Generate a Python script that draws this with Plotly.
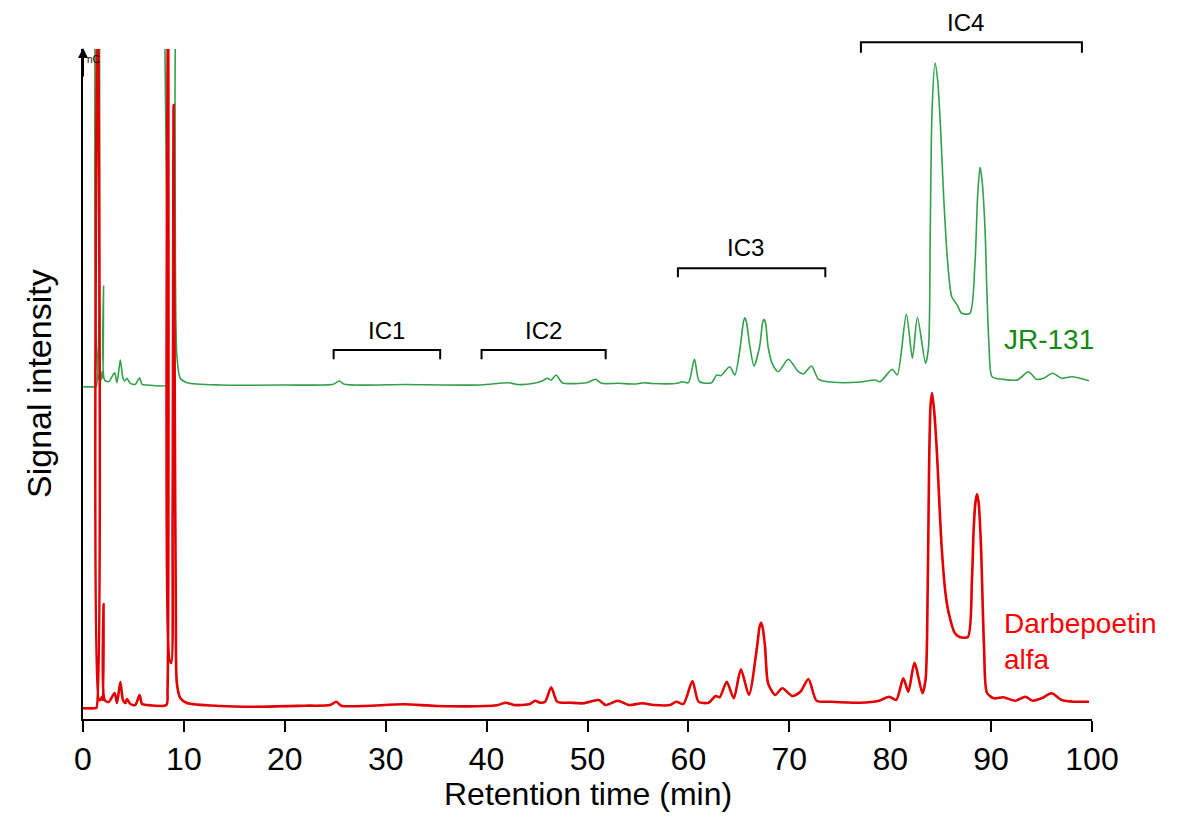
import plotly.graph_objects as go

# ---------------- data ----------------
# Darbepoetin alfa trace: retention time (min) and signal (arbitrary units)
red_time = [0.0, 1.2, 1.33, 1.45, 1.57, 1.71, 1.88, 1.97, 2.04, 2.14, 2.54, 3.13, 3.37, 3.70, 3.96,
            4.2, 4.36, 4.69, 5.18, 5.61, 5.85, 6.34, 8.26, 8.38, 8.45, 8.55, 8.75, 8.88, 8.98, 9.1,
            9.2, 9.3, 9.64, 10.3, 13.6, 16.9, 21.9, 24.5, 25.1, 25.6, 31.8, 35.1, 41.0, 41.9, 42.7,
            44.3, 44.8, 45.3, 45.8, 46.4, 47.0, 48.3, 49.6, 51.1, 51.8, 53.0, 54.1, 55.4, 56.6,
            58.2, 58.8, 59.5, 60.4, 61.0, 62.0, 62.7, 63.1, 63.8, 64.5, 65.2, 66.0, 66.8, 67.05,
            67.2, 67.35, 67.6, 67.9,
            68.6, 69.3, 70.3, 71.1, 71.9, 72.7, 74.1, 77.0, 78.9, 79.9, 80.6, 81.3, 81.8, 82.4,
            83.2, 83.5, 83.65, 83.85, 84.0, 84.15, 84.35, 84.6, 85.1, 85.5, 85.8, 86.4, 86.9, 87.7,
            88.1, 88.27, 88.44, 88.6, 88.77, 89.0, 89.3, 89.6, 90.3, 91.2, 92.4, 93.4, 94.1, 95.0,
            96.0, 97.0, 98.2, 99.7]
red_signal = [10.7, 10.7, 11, 800, 19, 19, 22, 19, 115, 19, 17, 26, 16, 37, 19,
              16, 20, 15, 14, 24, 15, 14, 14, 30, 800, 60, 56, 200, 614, 300,
              110, 36, 21, 16, 13, 12.3, 13.3, 14, 17.3, 13.3, 14.7, 13, 13.7, 16.3, 14,
              15, 18.3, 16.3, 17.3, 31.7, 17.3, 16.3, 15.7, 19, 14, 18.3, 14, 15.7, 14,
              14, 17.3, 15, 38, 17.3, 16.3, 23, 21.7, 37.3, 20.7, 49.7, 24, 72, 92,
              96.3, 92, 72, 35.7,
              24, 30.7, 23, 27.3, 40, 18.3, 17.3, 16.3, 18.3, 22.3, 19, 40.7, 27.3, 56.3,
              25.7, 39, 79, 249, 314, 326, 309, 272, 172, 124, 106, 86, 82, 82,
              139, 189, 216, 225, 216, 172, 72, 26, 20.7, 21.7, 18.3, 22.3, 18.3, 20.7,
              25.7, 19, 17.3, 17.3]

# JR-131 trace (signal relative to its own baseline; drawn with a vertical offset)
green_time = [0.0, 1.2, 1.33, 1.45, 1.57, 1.78, 1.88, 1.97, 2.04, 2.14, 2.54, 3.13, 3.37, 3.70, 3.96,
              4.15, 4.36, 4.69, 5.18, 5.61, 5.85, 6.34, 8.30, 8.42, 8.50, 8.95, 9.12, 9.3, 9.64, 10.3,
              13.6, 20.0, 24.8, 25.4, 25.9, 32.0, 39.4, 42.2, 43.0, 44.7, 45.6, 46.0, 46.4, 46.9,
              47.5, 49.9, 50.8, 51.4, 53.0, 54.8, 55.6, 56.4, 58.9, 59.4, 60.0, 60.6, 61.1, 62.3,
              62.8, 63.2, 64.1, 64.6, 65.14, 65.45, 65.6, 65.75, 66.1, 66.5, 67.05, 67.35, 67.5,
              67.65, 67.9, 68.3, 68.9, 69.9, 70.9, 71.4, 72.2, 72.9,
              74.4, 77.0, 78.5, 79.0, 80.2, 80.7, 81.6, 82.2, 82.7, 83.5, 83.8, 83.97, 84.14, 84.44,
              84.7, 85.0, 85.3, 85.7, 86.1, 86.6, 87.1, 87.9, 88.4, 88.66, 88.9, 89.1, 89.4, 89.6,
              89.8, 90.1, 91.2, 92.6, 93.7, 94.5, 95.2, 96.1, 97.0, 98.0, 99.7]
green_signal = [12.3, 12.3, 13, 800, 20, 19, 27.3, 20.7, 113.3, 19, 17.3, 26.3, 16.3, 39, 20.7,
                18, 20.7, 15.7, 14.7, 21.3, 14.7, 14, 14, 40, 800, 800, 300, 44, 20.7, 16.3,
                14, 14, 14.7, 18, 14.7, 14.5, 14, 16.3, 14.5, 15.7, 18.5, 20.7, 19, 24,
                16.3, 16.3, 19.7, 15.7, 15.7, 15, 16.3, 15.5, 15.7, 17.3, 16.3, 39.7, 17.3, 16.3,
                24, 23.3, 32.3, 24, 52, 77, 81.3, 77, 52, 33, 52, 76, 79.7,
                76, 52, 35.7, 27.3, 39.7, 27.3, 25, 33, 19.7,
                16.7, 17, 19, 17.3, 29.7, 24, 85, 40.7, 81.7, 35.7, 52, 169, 286, 336,
                319, 269, 202, 136, 102.3, 94.7, 85.7, 85.7, 135.7, 202, 231.7, 219, 169, 102,
                52.3, 22.3, 19.7, 19, 27.3, 19.7, 20.7, 25.7, 20.7, 22.3, 18.3]
GREEN_OFFSET = 320

# bracketed regions: label, start, end (min)
regions = ["IC1", "IC2", "IC3", "IC4"]
region_start = [24.84, 39.5, 58.96, 77.1]
region_end = [35.4, 51.8, 73.57, 99.0]
region_label_x = [30.1, 45.65, 65.7, 87.5]

x_ticks = [0, 10, 20, 30, 40, 50, 60, 70, 80, 90, 100]

# ---------------- styles / positions ----------------
FONT = "Arial, Liberation Sans, Helvetica, sans-serif"
GREEN_LINE = "#33a04a"
GREEN_TEXT = "#148a14"
RED_LINE = "#e30000"
RED_TEXT = "#ff0000"
bracket_top = [0.5507, 0.5507, 0.6727, 1.010]
bracket_leg = [0.5369, 0.5369, 0.6593, 0.9945]
label_y = [0.5799, 0.5799, 0.703, 1.040]

fig = go.Figure()
fig.add_trace(go.Scatter(
    x=green_time, y=[v + GREEN_OFFSET for v in green_signal], mode="lines",
    line=dict(color=GREEN_LINE, width=1.6, shape="spline", smoothing=0.7),
    name="JR-131", showlegend=False, hoverinfo="skip"))
fig.add_trace(go.Scatter(
    x=red_time, y=red_signal, mode="lines",
    line=dict(color=RED_LINE, width=2.6, shape="spline", smoothing=0.7),
    name="Darbepoetin alfa", showlegend=False, hoverinfo="skip"))

shapes = []
annotations = []
for lab, x0, x1, xl, yt, yb, ly in zip(regions, region_start, region_end, region_label_x,
                                       bracket_top, bracket_leg, label_y):
    shapes.append(dict(type="path", xref="x", yref="paper",
                       path=f"M {x0},{yb} L {x0},{yt} L {x1},{yt} L {x1},{yb}",
                       line=dict(color="black", width=2)))
    annotations.append(dict(text=lab, x=xl, y=ly, xref="x", yref="paper", showarrow=False,
                            xanchor="center", yanchor="middle",
                            font=dict(family=FONT, size=24, color="black")))

# series labels
annotations.append(dict(text="JR-131", x=91.1, y=0.5657, xref="x", yref="paper", showarrow=False,
                        xanchor="left", yanchor="middle",
                        font=dict(family=FONT, size=28, color=GREEN_TEXT)))
annotations.append(dict(text="Darbepoetin<br>alfa", x=91.1, y=0.1164, xref="x", yref="paper",
                        showarrow=False, xanchor="left", yanchor="middle", align="left",
                        font=dict(family=FONT, size=28, color=RED_TEXT)))
# y-axis arrow and unit
annotations.append(dict(text="", x=0, y=1.0015, xref="x", yref="paper", ax=0, ay=30,
                        showarrow=True, arrowhead=2, arrowsize=1, arrowwidth=2,
                        arrowcolor="black"))
annotations.append(dict(text="nC", x=0, y=0.985, xref="x", yref="paper", showarrow=False,
                        xanchor="left", yanchor="middle", xshift=2,
                        font=dict(family=FONT, size=10, color="black")))
# axis titles
annotations.append(dict(text="Retention time (min)", x=0.5, y=-0.1125, xref="paper", yref="paper",
                        showarrow=False, xanchor="center", yanchor="middle",
                        font=dict(family=FONT, size=32, color="black")))
annotations.append(dict(text="Signal intensity", x=0, y=0.5, xref="paper", yref="paper",
                        showarrow=False, xanchor="center", yanchor="middle", textangle=-90,
                        xshift=-44, font=dict(family=FONT, size=34, color="black")))

# the page body adds an 8 px margin, so the figure is sized to fit inside it
fig.update_layout(
    width=1161, height=804,
    margin=dict(l=75, r=77, t=41, b=93),
    paper_bgcolor="white", plot_bgcolor="white",
    shapes=shapes, annotations=annotations,
    xaxis=dict(range=[0, 100], tickvals=x_ticks, ticks="outside", ticklen=11, tickwidth=2,
               tickcolor="black", showline=True, linewidth=2, linecolor="black",
               showgrid=False, zeroline=False,
               tickfont=dict(family=FONT, size=32, color="black")),
    yaxis=dict(range=[0, 670], showline=True, linewidth=2, linecolor="black",
               showticklabels=False, ticks="", showgrid=False, zeroline=False),
)

fig.write_html("out.html")
